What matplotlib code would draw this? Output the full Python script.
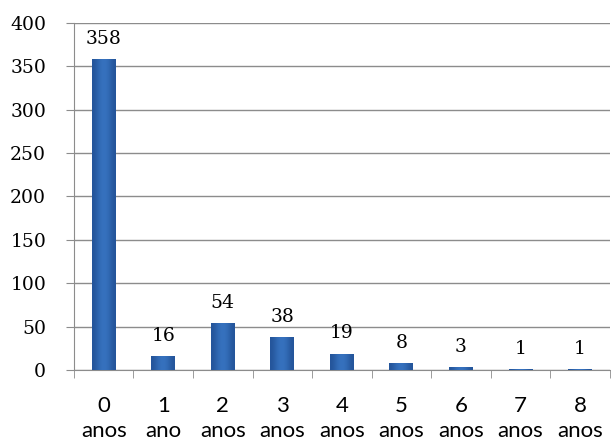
import matplotlib.pyplot as plt
import numpy as np
from matplotlib.colors import LinearSegmentedColormap

plt.rcParams['font.family'] = ['Lato', 'DejaVu Sans']

idades = ['0\nanos', '1\nano', '2\nanos', '3\nanos', '4\nanos',
          '5\nanos', '6\nanos', '7\nanos', '8\nanos']
contagens = [358, 16, 54, 38, 19, 8, 3, 1, 1]
y_ticks = [0, 50, 100, 150, 200, 250, 300, 350, 400]

serif = ['DejaVu Serif']

fig = plt.figure(figsize=(6.11, 4.41), dpi=100)
ax = fig.add_axes([0.121, 0.161, 0.877, 0.787])

x = np.arange(len(contagens))
bars = ax.bar(x, contagens, width=0.4, color='#2f66b0', zorder=3)

# horizontal gradient inside each bar (darker edges, lighter centre)
grad = np.array([[0.0, 0.55, 0.8, 0.55, 0.0]])
cmap = LinearSegmentedColormap.from_list('barra', ['#24559a', '#3d7ccc'])
for b in bars:
    x0, y0 = b.get_x(), b.get_y()
    w, h = b.get_width(), b.get_height()
    im = ax.imshow(grad, cmap=cmap, aspect='auto', extent=(x0, x0 + w, y0, y0 + h),
                   vmin=0, vmax=1, zorder=4, interpolation='bicubic')
    im.set_clip_path(b)

for xi, v in zip(x, contagens):
    ax.annotate(str(v), (xi, v), xytext=(0, 11), textcoords='offset points',
                ha='center', va='baseline', fontsize=13.5, family=serif, zorder=5)

ax.set_xlim(-0.5, len(contagens) - 0.5)
ax.set_ylim(0, 400)
ax.set_yticks(y_ticks)
ax.set_yticklabels([str(t) for t in y_ticks], family=serif, fontsize=13.5)
ax.tick_params(axis='y', length=6, color='#8c8c8c', pad=14)
ax.set_xticks(x)
ax.set_xticklabels(idades, fontsize=16, linespacing=1.3)
ax.tick_params(axis='x', length=0, pad=19)
ax.set_xticks(np.arange(-0.5, len(contagens)), minor=True)
ax.tick_params(axis='x', which='minor', length=6, color='#8c8c8c')

ax.grid(axis='y', color='#8c8c8c', linewidth=1, zorder=0)
for s in ['top', 'right']:
    ax.spines[s].set_visible(False)
ax.spines['left'].set_color('#8c8c8c')
ax.spines['bottom'].set_color('#8c8c8c')

plt.savefig('out.png', dpi=100)
